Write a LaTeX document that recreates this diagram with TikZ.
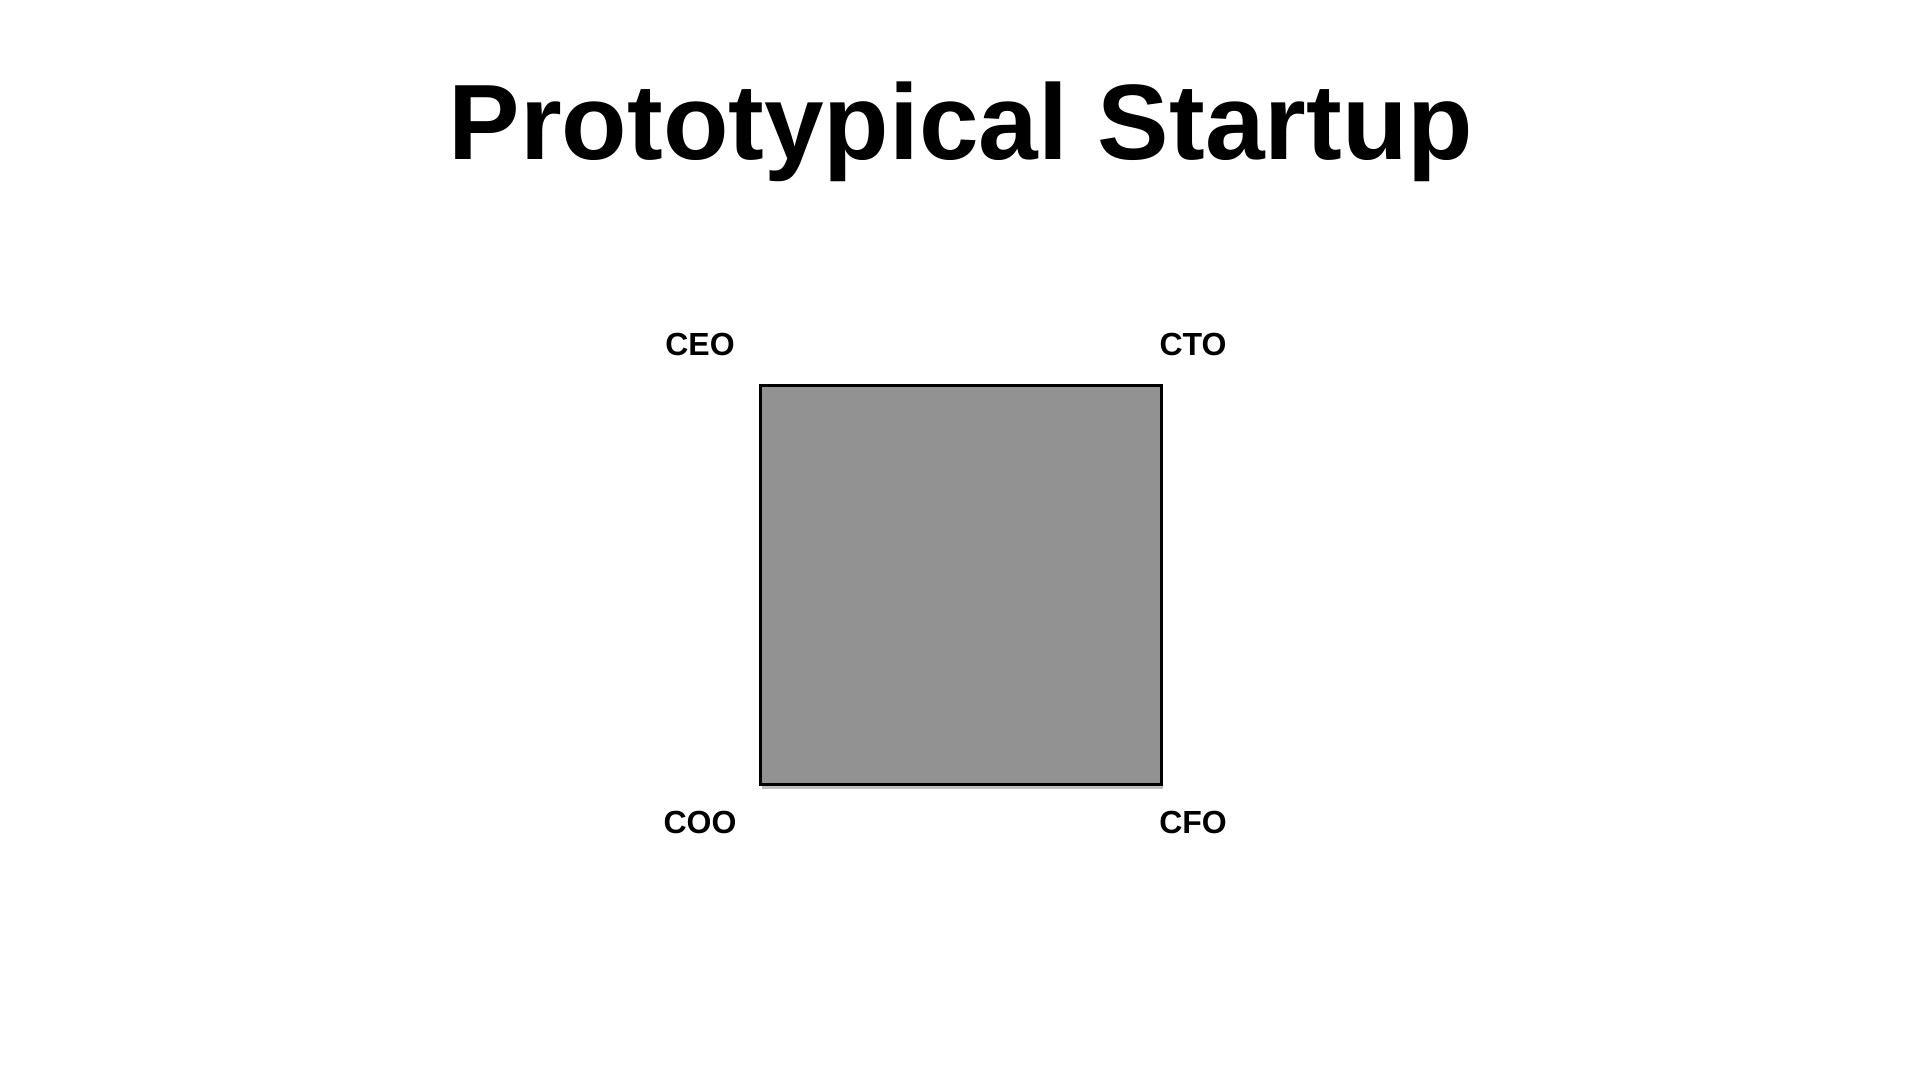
\documentclass[tikz,border=0pt]{standalone}
\usepackage{fontspec}
\setmainfont{Liberation Sans}
\definecolor{boxgray}{HTML}{929292}
\begin{document}
\begin{tikzpicture}
[every node/.style={inner sep=0pt},%
  role/.style={anchor=base,font=\fontsize{9.1pt}{11pt}\selectfont\bfseries},%
  x=1cm,y=1cm]
\useasboundingbox (0,0) rectangle (19.2,10.8);
\node[anchor=base,font=\fontsize{30.5pt}{36pt}\selectfont\bfseries] (title) at (9.61,9.20) {Prototypical Startup};
% the company
\fill[black!25] (7.62,2.91) rectangle (11.63,6.90);
\node[draw,thick,fill=boxgray,minimum width=4.01cm,minimum height=3.99cm,anchor=south west] (firm) at (7.59,2.94) {};
\node[role] (ceo) at (7.00,7.24) {CEO};
\node[role] (cto) at (11.93,7.24) {CTO};
\node[role] (coo) at (7.00,2.46) {COO};
\node[role] (cfo) at (11.93,2.46) {CFO};
\end{tikzpicture}
\end{document}
